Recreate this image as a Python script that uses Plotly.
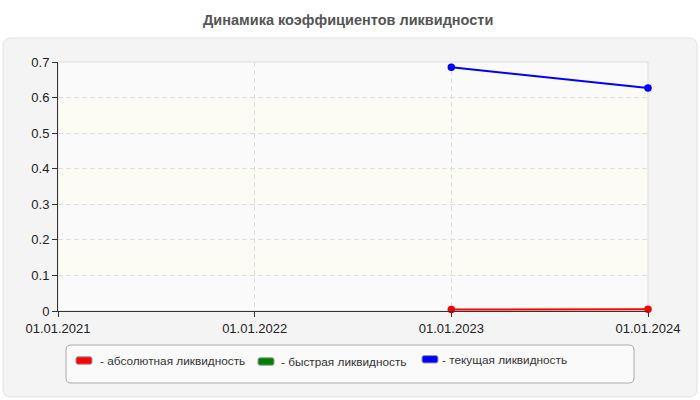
import plotly.graph_objects as go

categories = ["01.01.2021", "01.01.2022", "01.01.2023", "01.01.2024"]
absolute_liq = [None, None, 0.004, 0.005]
quick_liq = [None, None, None, None]
current_liq = [None, None, 0.685, 0.627]
series_names = ["- абсолютная ликвидность", "- быстрая ликвидность", "- текущая ликвидность"]
series_colors = ["#ff0000", "#008000", "#0000ff"]
y_ticks = [0, 0.1, 0.2, 0.3, 0.4, 0.5, 0.6, 0.7]

W, H = 700, 400
L, R, T, B = 58, 52, 62, 89
pw, ph = W - L - R, H - T - B

def px(x):
    return (x - L) / pw

def py(y):
    return (H - B - y) / ph

def rounded(x0, y0, x1, y1, r):
    X0, X1 = px(x0), px(x1)
    Y0, Y1 = py(y0), py(y1)
    rx, ry = r / pw, r / ph
    return (f"M {X0+rx},{Y0} L {X1-rx},{Y0} Q {X1},{Y0} {X1},{Y0-ry} "
            f"L {X1},{Y1+ry} Q {X1},{Y1} {X1-rx},{Y1} L {X0+rx},{Y1} "
            f"Q {X0},{Y1} {X0},{Y1+ry} L {X0},{Y0-ry} Q {X0},{Y0} {X0+rx},{Y0} Z")

fig = go.Figure()

for vals, name, col in zip([absolute_liq, quick_liq, current_liq], series_names, series_colors):
    fig.add_trace(go.Scatter(
        x=categories, y=vals, mode="lines+markers", name=name,
        line=dict(color=col, width=2), marker=dict(color=col, size=7.5),
        showlegend=False, cliponaxis=False))

shapes = []
shapes.append(dict(type="path", xref="paper", yref="paper", path=rounded(3, 38, 697, 397, 8),
                   fillcolor="#f4f4f4", line=dict(color="#e2e2e2", width=1), layer="below"))
for i in range(7):
    shapes.append(dict(type="rect", xref="paper", yref="y", x0=0, x1=1, y0=i * 0.1, y1=(i + 1) * 0.1,
                       fillcolor="#fafafa" if i % 2 == 0 else "#fcfcf4", line=dict(width=0), layer="below"))
shapes.append(dict(type="rect", xref="paper", yref="paper", x0=0, x1=1, y0=0, y1=1,
                   line=dict(color="#dddddd", width=1), layer="below"))
shapes.append(dict(type="path", xref="paper", yref="paper", path=rounded(66, 345, 634, 383, 5),
                   fillcolor="#fafafa", line=dict(color="#aaaaaa", width=1), layer="above"))

annotations = [dict(text="<b>Динамика коэффициентов ликвидности</b>", xref="paper", yref="paper",
                    x=px(348), y=py(20), xanchor="center", yanchor="middle", showarrow=False,
                    font=dict(family="Liberation Sans, Arial", size=14.5, color="#555555"))]

swatch_x = [76, 258, 422]
swatch_y = [360.5, 361.5, 359.3]
text_y = [360.5, 361.8, 359.5]
text_x = [98, 279, 440]
for sx, sy, ty, tx, name, col in zip(swatch_x, swatch_y, text_y, text_x, series_names, series_colors):
    shapes.append(dict(type="path", xref="paper", yref="paper", path=rounded(sx, sy - 3.7, sx + 16, sy + 3.7, 2),
                       fillcolor=col, line=dict(color="#999999", width=1), layer="above"))
    annotations.append(dict(text=name, xref="paper", yref="paper", x=px(tx), y=py(ty),
                            xanchor="left", yanchor="middle", showarrow=False,
                            font=dict(family="Liberation Sans, Arial", size=11.8, color="#333333")))

fig.update_layout(
    width=W, height=H, margin=dict(l=L, r=R, t=T, b=B),
    paper_bgcolor="white", plot_bgcolor="rgba(0,0,0,0)",
    shapes=shapes, annotations=annotations, showlegend=False,
    font=dict(family="Liberation Sans, Arial", size=13, color="#222222"),
)
fig.update_xaxes(type="category", range=[0, 3], showgrid=True, gridcolor="#dddddd", griddash="5px,3px",
                 showline=True, linecolor="#333333", linewidth=1, ticks="outside", ticklen=5,
                 tickcolor="#333333", zeroline=False, tickfont=dict(size=13, color="#222222"))
fig.update_yaxes(range=[0, 0.7], tickvals=y_ticks, ticktext=[f"{v:g}" for v in y_ticks],
                 showgrid=True, gridcolor="#dddddd", griddash="5px,3px",
                 showline=True, linecolor="#333333", linewidth=1, ticks="outside", ticklen=5,
                 tickcolor="#333333", zeroline=False, tickfont=dict(size=13, color="#222222"))

fig.write_html("out.html", config={"displayModeBar": False},
               post_script="document.body.style.margin='0';document.body.style.overflow='hidden';")
